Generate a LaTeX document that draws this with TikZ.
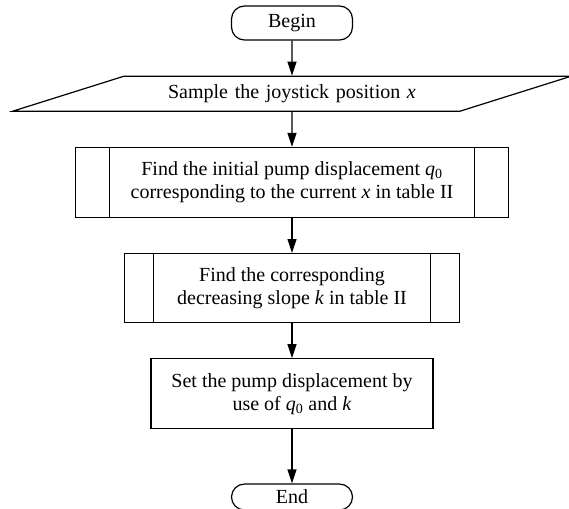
\documentclass[tikz,border=0pt]{standalone}
\usepackage{fontspec}
\setmainfont{Liberation Serif}
\usetikzlibrary{arrows.meta,positioning,shapes.geometric}

\begin{document}
\begin{tikzpicture}[->,>={Triangle[length=14pt,width=9pt]},node distance=35pt,
                    line width=1.2pt,
                    every node/.style={font=\fontsize{20}{23}\selectfont},
                    terminal/.style={draw,rounded corners=13pt,minimum width=121pt,minimum height=34pt},
                    io/.style={draw,trapezium,trapezium left angle=12.6,trapezium right angle=167.4,
                               trapezium stretches body,text width=336pt,align=center,inner xsep=0pt,minimum height=35pt},
                    process/.style={draw,rectangle,align=center,minimum height=70pt},
                    subproc/.style={process,path picture={
                      \draw[-] ([xshift=#1]path picture bounding box.north west) -- ([xshift=#1]path picture bounding box.south west);
                      \draw[-] ([xshift=-#1]path picture bounding box.north east) -- ([xshift=-#1]path picture bounding box.south east);}}]
  \useasboundingbox (0,0) rectangle (569pt,-508pt);

  \node[terminal] (begin) at (292pt,-23pt) {Begin};
  \node[io] (sample) [below=of begin] {Sample the joystick position \textit{x}};
  \node[subproc=34pt,minimum width=433pt] (findq) [below=of sample]
       {Find the initial pump displacement \textit{q}\textsubscript{0}\\corresponding to the current \textit{x} in table II};
  \node[subproc=29pt,minimum width=335pt,minimum height=69pt] (findk) [below=of findq]
       {Find the corresponding\\decreasing slope \textit{k} in table II};
  \node[process,minimum width=282pt] (setq) [below=of findk]
       {Set the pump displacement by\\use of \textit{q}\textsubscript{0} and \textit{k}};
  \node[terminal,minimum height=26pt] (end) [below=54pt of setq] {End};

  \path (begin) edge (sample)
        (sample) edge (findq)
        (findq) edge (findk)
        (findk) edge (setq)
        (setq) edge (end);
\end{tikzpicture}
\end{document}
